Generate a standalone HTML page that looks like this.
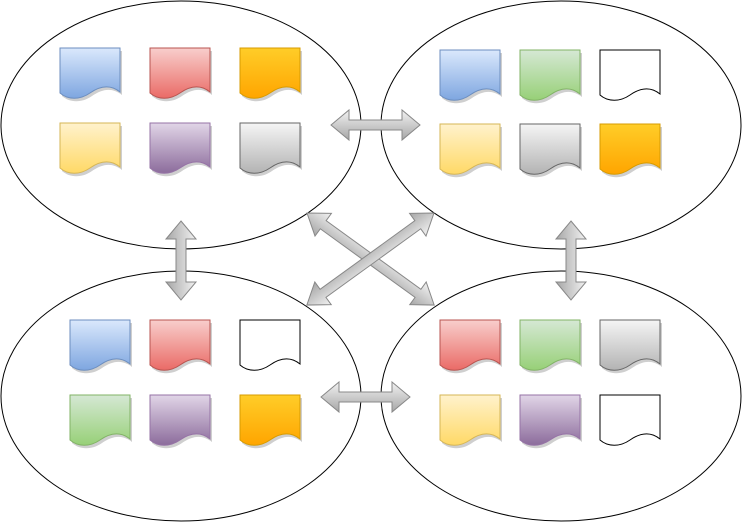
<!DOCTYPE html>
<html><head><meta charset="utf-8"><style>html,body{margin:0;padding:0;background:#fff}svg{display:block}</style></head>
<body>
<svg width="742" height="525" viewBox="0 0 742 525" xmlns="http://www.w3.org/2000/svg">
<defs>
<linearGradient id="blue" x1="0" y1="0" x2="0" y2="1"><stop offset="0" stop-color="#dae8fc"/><stop offset="1" stop-color="#7ea6e0"/></linearGradient>
<linearGradient id="red" x1="0" y1="0" x2="0" y2="1"><stop offset="0" stop-color="#f8cecc"/><stop offset="1" stop-color="#ea6b66"/></linearGradient>
<linearGradient id="orange" x1="0" y1="0" x2="0" y2="1"><stop offset="0" stop-color="#ffcd28"/><stop offset="1" stop-color="#ffa500"/></linearGradient>
<linearGradient id="yellow" x1="0" y1="0" x2="0" y2="1"><stop offset="0" stop-color="#fff2cc"/><stop offset="1" stop-color="#ffd966"/></linearGradient>
<linearGradient id="purple" x1="0" y1="0" x2="0" y2="1"><stop offset="0" stop-color="#e1d5e7"/><stop offset="1" stop-color="#8c6c9c"/></linearGradient>
<linearGradient id="gray" x1="0" y1="0" x2="0" y2="1"><stop offset="0" stop-color="#f5f5f5"/><stop offset="1" stop-color="#b3b3b3"/></linearGradient>
<linearGradient id="green" x1="0" y1="0" x2="0" y2="1"><stop offset="0" stop-color="#d5e8d4"/><stop offset="1" stop-color="#97d077"/></linearGradient>
<linearGradient id="arr" x1="0" y1="0" x2="1" y2="0"><stop offset="0" stop-color="#eeeeee"/><stop offset="1" stop-color="#aaaaaa"/></linearGradient>
<linearGradient id="arrv" x1="0" y1="0" x2="0" y2="1"><stop offset="0" stop-color="#f2f2f2"/><stop offset="1" stop-color="#a6a6a6"/></linearGradient>
<path id="doc" d="M0,0 H60 V44 C50,36 40,38 30,45 C20,52 8,52 0,45 Z"/>
</defs>
<g fill="none" stroke="#000" stroke-width="1">
<ellipse cx="181" cy="125" rx="180" ry="124"/>
<ellipse cx="561" cy="125" rx="180" ry="124"/>
<ellipse cx="181" cy="396" rx="180" ry="125"/>
<ellipse cx="561" cy="396" rx="180" ry="125"/>
</g>
<g>
<!-- shadows -->
<g fill="#cfcfcf">
<use href="#doc" x="62" y="51"/><use href="#doc" x="152" y="51"/><use href="#doc" x="242" y="51"/>
<use href="#doc" x="62" y="126"/><use href="#doc" x="152" y="126"/><use href="#doc" x="242" y="126"/>
<use href="#doc" x="442" y="53"/><use href="#doc" x="522" y="53"/>
<use href="#doc" x="442" y="127"/><use href="#doc" x="522" y="127"/><use href="#doc" x="602" y="127"/>
<use href="#doc" x="72" y="323"/><use href="#doc" x="152" y="323"/>
<use href="#doc" x="72" y="398"/><use href="#doc" x="152" y="398"/><use href="#doc" x="242" y="398"/>
<use href="#doc" x="442" y="323"/><use href="#doc" x="522" y="323"/><use href="#doc" x="602" y="323"/>
<use href="#doc" x="442" y="398"/><use href="#doc" x="522" y="398"/>
</g>
<use href="#doc" x="60" y="48" fill="url(#blue)" stroke="#6c8ebf"/>
<use href="#doc" x="150" y="48" fill="url(#red)" stroke="#b85450"/>
<use href="#doc" x="240" y="48" fill="url(#orange)" stroke="#d79b00"/>
<use href="#doc" x="60" y="123" fill="url(#yellow)" stroke="#d6b656"/>
<use href="#doc" x="150" y="123" fill="url(#purple)" stroke="#9673a6"/>
<use href="#doc" x="240" y="123" fill="url(#gray)" stroke="#666"/>

<use href="#doc" x="440" y="50" fill="url(#blue)" stroke="#6c8ebf"/>
<use href="#doc" x="520" y="50" fill="url(#green)" stroke="#82b366"/>
<use href="#doc" x="600" y="50" fill="#fff" stroke="#000"/>
<use href="#doc" x="440" y="124" fill="url(#yellow)" stroke="#d6b656"/>
<use href="#doc" x="520" y="124" fill="url(#gray)" stroke="#666"/>
<use href="#doc" x="600" y="124" fill="url(#orange)" stroke="#d79b00"/>

<use href="#doc" x="70" y="320" fill="url(#blue)" stroke="#6c8ebf"/>
<use href="#doc" x="150" y="320" fill="url(#red)" stroke="#b85450"/>
<use href="#doc" x="240" y="320" fill="#fff" stroke="#000"/>
<use href="#doc" x="70" y="395" fill="url(#green)" stroke="#82b366"/>
<use href="#doc" x="150" y="395" fill="url(#purple)" stroke="#9673a6"/>
<use href="#doc" x="240" y="395" fill="url(#orange)" stroke="#d79b00"/>

<use href="#doc" x="440" y="320" fill="url(#red)" stroke="#b85450"/>
<use href="#doc" x="520" y="320" fill="url(#green)" stroke="#82b366"/>
<use href="#doc" x="600" y="320" fill="url(#gray)" stroke="#666"/>
<use href="#doc" x="440" y="395" fill="url(#yellow)" stroke="#d6b656"/>
<use href="#doc" x="520" y="395" fill="url(#purple)" stroke="#9673a6"/>
<use href="#doc" x="600" y="395" fill="#fff" stroke="#000"/>
</g>
<g stroke="#888" stroke-width="1" fill="url(#arrv)">
<!-- horizontal top -->
<g transform="translate(331,125)"><polygon points="0,0 18,-15 18,-5 71,-5 71,-15 89,0 71,15 71,5 18,5 18,15"/></g>
<g transform="translate(321,397)"><polygon points="0,0 18,-15 18,-5 71,-5 71,-15 89,0 71,15 71,5 18,5 18,15"/></g>
<g transform="translate(181,221) rotate(90)"><polygon points="0,0 18,-15 18,-5 61,-5 61,-15 79,0 61,15 61,5 18,5 18,15"/></g>
<g transform="translate(571,221) rotate(90)"><polygon points="0,0 18,-15 18,-5 61,-5 61,-15 79,0 61,15 61,5 18,5 18,15"/></g>
<g transform="translate(307,213) rotate(35.9)"><polygon points="0,0 20,-14 20,-5 137,-5 137,-14 157,0 137,14 137,5 20,5 20,14"/></g>
<g transform="translate(434,213) rotate(144.1)"><polygon points="0,0 20,-14 20,-5 137,-5 137,-14 157,0 137,14 137,5 20,5 20,14"/></g>
</g>
</svg>
</body></html>
